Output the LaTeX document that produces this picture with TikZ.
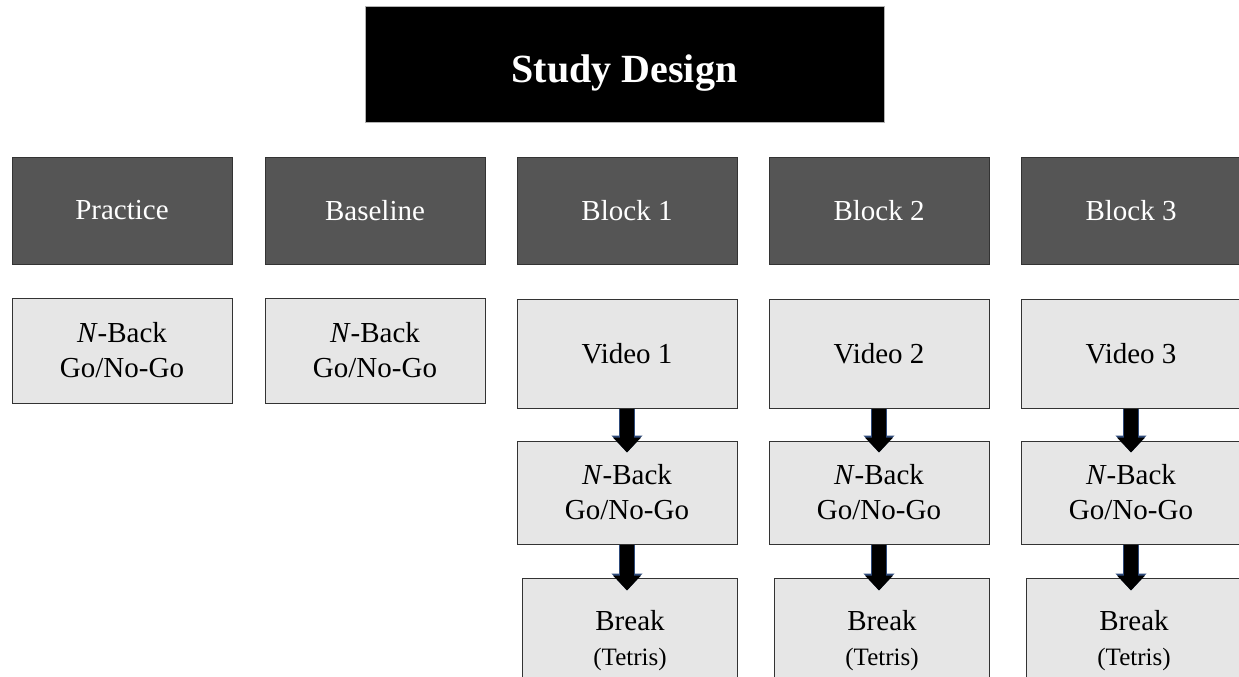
\documentclass[tikz,border=0pt]{standalone}
\usepackage{fontspec}
\setmainfont{Liberation Serif}
\usetikzlibrary{arrows.meta,calc}
\definecolor{hdr}{HTML}{555555}
\definecolor{lite}{HTML}{E6E6E6}
\definecolor{edge}{HTML}{333333}
\definecolor{arrowedge}{HTML}{2E4A7A}
\begin{document}
\begin{tikzpicture}[x=1pt,y=-1pt,
  titlebox/.style={fill=black, draw=black!30, line width=1pt, minimum width=519pt, minimum height=115pt, text=white, font=\bfseries\fontsize{40}{48}\selectfont, inner sep=0pt},
  hdrbox/.style={fill=hdr, draw=edge, line width=1pt, minimum width=220pt, minimum height=107pt, text=white, font=\fontsize{29}{35}\selectfont, inner sep=0pt},
  taskbox/.style={fill=lite, draw=edge, line width=1pt, minimum width=220pt, text=black, font=\fontsize{29}{35}\selectfont, align=center, inner sep=0pt},
  flow/.style={line width=14pt, -{Triangle[width=27pt,length=15pt]},
    preaction={draw=arrowedge, line width=16pt, -{Triangle[width=30pt,length=17pt]}}}
]
\useasboundingbox (0,0) rectangle (1239,677);
\fill[white] (0,0) rectangle (1239,677);
\clip (0,0) rectangle (1239,677);

\node[titlebox] (title) at (624.5,64.5) {\raisebox{-9pt}[\height][\depth]{Study Design}};

\node[hdrbox] (hp) at (122,210.5) {Practice};
\node[hdrbox] (hb) at (375,210.5) {Baseline};
\node[hdrbox] (h1) at (627,210.5) {Block 1};
\node[hdrbox] (h2) at (879,210.5) {Block 2};
\node[hdrbox] (h3) at (1131,210.5) {Block 3};

\node[taskbox, minimum height=105pt] (tp) at (122,350.5) {\textit{N}-Back\\Go/No-Go};
\node[taskbox, minimum height=105pt] (tb) at (375,350.5) {\textit{N}-Back\\Go/No-Go};

\node[taskbox, minimum height=109pt] (v1) at (627,353.5) {Video 1};
\node[taskbox, minimum height=109pt] (v2) at (879,353.5) {Video 2};
\node[taskbox, minimum height=109pt] (v3) at (1131,353.5) {Video 3};

\node[taskbox, minimum height=103pt] (n1) at (627,492.5) {\textit{N}-Back\\Go/No-Go};
\node[taskbox, minimum height=103pt] (n2) at (879,492.5) {\textit{N}-Back\\Go/No-Go};
\node[taskbox, minimum height=103pt] (n3) at (1131,492.5) {\textit{N}-Back\\Go/No-Go};

\node[taskbox, minimum width=215pt, minimum height=126pt] (b1) at (630,641) {Break\\{\fontsize{25}{30}\selectfont (Tetris)}};
\node[taskbox, minimum width=215pt, minimum height=126pt] (b2) at (882,641) {Break\\{\fontsize{25}{30}\selectfont (Tetris)}};
\node[taskbox, minimum width=215pt, minimum height=126pt] (b3) at (1134,641) {Break\\{\fontsize{25}{30}\selectfont (Tetris)}};

\foreach \i in {1,2,3} {
  \draw[flow] (v\i.south) -- ($(n\i.north)+(0,12)$);
  \draw[flow] (n\i.south) -- ($(n\i.south)+(0,46)$);
}
\end{tikzpicture}
\end{document}
